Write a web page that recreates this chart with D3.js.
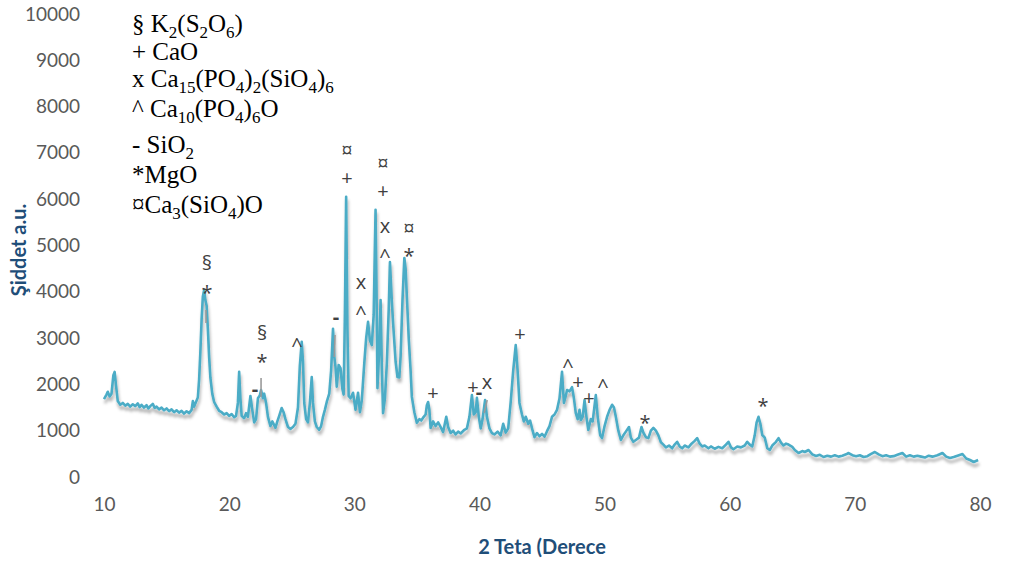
<!DOCTYPE html>
<html>
<head>
<meta charset="utf-8">
<script src="https://cdn.jsdelivr.net/npm/d3@7"></script>
<style>
  body { margin: 0; background: #fff; }
  svg { display: block; }
</style>
</head>
<body>
<svg id="chart"></svg>
<script>
// XRD scan: [2theta (deg), intensity (a.u.)]
const scan = [
  [10.0,1680],[10.2,1780],[10.3,1840],[10.45,1740],[10.6,1800],[10.75,2200],[10.85,2270],[10.95,2000],
  [11.1,1640],[11.3,1560],[11.5,1600],[11.7,1540],[11.9,1580],[12.1,1520],[12.3,1570],[12.5,1530],
  [12.7,1590],[12.85,1510],[13.0,1560],[13.2,1500],[13.4,1550],[13.55,1480],[13.7,1530],[13.9,1580],
  [14.05,1490],[14.2,1520],[14.4,1460],[14.6,1500],[14.8,1440],[15.0,1480],[15.2,1420],[15.4,1460],
  [15.6,1400],[15.8,1440],[16.0,1390],[16.2,1430],[16.4,1370],[16.6,1420],[16.8,1380],[17.0,1450],
  [17.1,1640],[17.2,1520],[17.35,1620],[17.5,1720],[17.6,2100],[17.7,2700],[17.8,3400],[17.9,3900],
  [18.0,4040],[18.1,3820],[18.2,3700],[18.3,3200],[18.4,2600],[18.5,2150],[18.65,1800],[18.8,1620],
  [19.0,1520],[19.2,1430],[19.4,1400],[19.6,1350],[19.8,1380],[20.0,1320],[20.2,1360],[20.4,1290],
  [20.55,1320],[20.7,1600],[20.8,2270],[20.9,1700],[21.0,1320],[21.2,1270],[21.35,1380],[21.5,1300],
  [21.7,1750],[21.85,1450],[22.0,1180],[22.15,1250],[22.3,1700],[22.45,1760],[22.55,1880],[22.7,1700],
  [22.8,1800],[22.95,1600],[23.1,1300],[23.3,1100],[23.45,1200],[23.55,1150],[23.7,1060],[23.85,1200],
  [24.0,1320],[24.2,1490],[24.35,1400],[24.5,1250],[24.7,1080],[24.9,1040],[25.1,1080],[25.3,1150],
  [25.5,1500],[25.65,2400],[25.8,2920],[25.9,2500],[26.0,1600],[26.15,1250],[26.3,1180],[26.45,1600],
  [26.6,2160],[26.7,1600],[26.85,1200],[27.0,1080],[27.2,1020],[27.35,1100],[27.5,1300],[27.65,1450],
  [27.8,1620],[28.0,1800],[28.15,2300],[28.3,3200],[28.4,2600],[28.5,2380],[28.6,1950],[28.75,2420],
  [28.9,2350],[29.05,1900],[29.15,1780],[29.25,3500],[29.35,6050],[29.45,3200],[29.55,1750],[29.7,1700],
  [29.9,1820],[30.1,1450],[30.3,1820],[30.45,1400],[30.6,1650],[30.8,2460],[30.95,3000],[31.1,3350],
  [31.25,2950],[31.4,2850],[31.55,3500],[31.7,5770],[31.8,3500],[31.85,1920],[32.0,2800],[32.1,3820],
  [32.2,2400],[32.3,1380],[32.45,1700],[32.6,2450],[32.75,3600],[32.85,4640],[33.0,3800],[33.1,3330],
  [33.3,2500],[33.45,2160],[33.6,2150],[33.7,2600],[33.85,3800],[34.0,4730],[34.1,4500],[34.2,3900],
  [34.35,3000],[34.5,2300],[34.6,1730],[34.8,1400],[35.0,1170],[35.2,1250],[35.35,1220],[35.55,1300],
  [35.7,1350],[35.8,1550],[35.9,1620],[36.0,1450],[36.1,1060],[36.3,1200],[36.5,1100],[36.7,1180],
  [36.9,1080],[37.1,970],[37.35,1300],[37.5,1080],[37.7,950],[37.9,1000],[38.1,920],[38.3,980],
  [38.5,940],[38.8,1020],[39.0,1050],[39.2,1300],[39.4,1770],[39.55,1350],[39.7,1400],[39.8,1710],
  [39.95,1300],[40.1,1050],[40.25,1250],[40.45,1660],[40.6,1300],[40.8,1050],[41.0,950],[41.2,920],
  [41.45,980],[41.7,900],[41.9,1150],[42.1,960],[42.3,1050],[42.5,1620],[42.7,2300],[42.9,2850],
  [43.05,2300],[43.2,1600],[43.4,1350],[43.55,1200],[43.7,1300],[43.9,1150],[44.05,1220],[44.25,1000],
  [44.4,860],[44.6,950],[44.8,880],[45.0,930],[45.2,870],[45.4,990],[45.6,1100],[45.8,1300],
  [46.0,1350],[46.2,1450],[46.4,1700],[46.6,2270],[46.75,1600],[46.9,1750],[47.0,1880],[47.2,1850],
  [47.4,1940],[47.55,1700],[47.7,1380],[47.85,1250],[48.0,1450],[48.1,1230],[48.25,1300],[48.4,1660],
  [48.55,1300],[48.7,1015],[48.9,1250],[49.05,1200],[49.3,1770],[49.45,1300],[49.65,900],[49.8,840],
  [50.0,1100],[50.2,1300],[50.4,1450],[50.6,1560],[50.75,1500],[50.9,1300],[51.1,1000],[51.3,800],
  [51.5,900],[51.7,980],[51.95,1080],[52.1,850],[52.3,760],[52.5,800],[52.75,850],[52.95,1080],
  [53.1,960],[53.3,860],[53.5,840],[53.7,1000],[53.9,1060],[54.1,1000],[54.3,900],[54.5,750],
  [54.7,700],[54.9,640],[55.15,680],[55.4,620],[55.6,700],[55.8,760],[56.0,660],[56.2,620],
  [56.4,680],[56.7,640],[56.95,720],[57.2,780],[57.4,840],[57.6,720],[57.8,660],[58.0,680],
  [58.3,620],[58.5,660],[58.8,610],[59.1,650],[59.4,620],[59.7,700],[59.9,760],[60.1,640],
  [60.3,600],[60.6,660],[60.9,640],[61.2,680],[61.4,760],[61.6,700],[61.8,660],[62.0,900],
  [62.15,1180],[62.3,1300],[62.45,1150],[62.6,907],[62.8,850],[63.0,620],[63.2,583],[63.4,680],
  [63.7,760],[63.9,840],[64.1,740],[64.3,680],[64.5,720],[64.7,700],[65.0,650],[65.2,583],
  [65.5,518],[65.8,560],[66.0,540],[66.3,583],[66.6,490],[66.9,453],[67.2,480],[67.5,432],
  [67.8,460],[68.1,440],[68.4,470],[68.7,440],[69.0,460],[69.3,490],[69.5,518],[69.8,470],
  [70.1,450],[70.4,470],[70.7,432],[71.0,450],[71.3,500],[71.6,540],[71.9,490],[72.2,450],
  [72.5,470],[72.8,440],[73.1,450],[73.4,480],[73.8,518],[74.1,440],[74.4,470],[74.7,440],
  [75.0,460],[75.3,440],[75.6,420],[75.9,460],[76.2,440],[76.6,470],[77.0,518],[77.3,440],
  [77.6,410],[77.9,430],[78.2,460],[78.6,497],[78.9,400],[79.2,367],[79.5,324],[79.85,367]
];

// phase marks over the peaks: [2theta, intensity, symbol] (visual centre of the symbol)
const peakMarks = [
  [18.23,4620,"§"],[18.23,4080,"*"],
  [22.63,3110,"§"],[22.63,2590,"*"],[22.07,1857,"-"],
  [25.42,2916,"^"],[28.54,3413,"-"],
  [29.42,7063,"¤"],[29.42,6458,"+"],
  [30.54,4168,"x"],[30.54,3607,"^"],
  [32.30,6782,"¤"],[32.30,6177,"+"],
  [32.45,5378,"x"],[32.45,4838,"^"],
  [34.37,5378,"¤"],[34.37,4860,"*"],
  [36.29,1814,"+"],
  [39.49,1944,"+"],[39.97,1793,"-"],[40.61,2009,"x"],
  [43.24,3088,"+"],
  [47.08,2462,"^"],[47.88,2052,"+"],[48.76,1706,"+"],[49.87,2030,"^"],
  [53.23,1274,"*"],[62.66,1641,"*"]
];

// short grey leader ticks next to a few peaks: [2theta top, int top, 2theta bottom, int bottom]
const leaders = [
  [18.15,3607,18.15,3326],
  [22.55,2138,22.55,1728],
  [28.46,3067,28.40,2592],
  [40.62,1663,40.38,1382]
];

// phase legend, "_n" = subscript
const phases = [
  "§ K_2(S_2O_6)",
  "+ CaO",
  "x Ca_15(PO_4)_2(SiO_4)_6",
  "^ Ca_10(PO_4)_6O",
  "- SiO_2",
  "*MgO",
  "¤Ca_3(SiO_4)O"
];
const legendBaselines = [32, 60, 87, 117, 153, 183, 213];

const xTicks = [10, 20, 30, 40, 50, 60, 70, 80];
const yTicks = [0, 1000, 2000, 3000, 4000, 5000, 6000, 7000, 8000, 9000, 10000];

const width = 1011, height = 565;
const svg = d3.select("#chart").attr("width", width).attr("height", height);

const x = d3.scaleLinear().domain([10, 80]).range([104, 980]);
const y = d3.scaleLinear().domain([0, 10000]).range([477, 14]);

// drop shadow like the office chart
const defs = svg.append("defs");
const f = defs.append("filter").attr("id", "shadow")
  .attr("x", "-5%").attr("y", "-5%").attr("width", "110%").attr("height", "120%");
f.append("feDropShadow")
  .attr("dx", 1).attr("dy", 4).attr("stdDeviation", 1.8)
  .attr("flood-color", "#000").attr("flood-opacity", 0.3);

// axes: labels only
svg.append("g")
  .attr("transform", "translate(80,0)")
  .call(d3.axisLeft(y).tickValues(yTicks).tickSize(0).tickPadding(0).tickFormat(d3.format("d")))
  .call(g => g.select(".domain").remove())
  .call(g => g.selectAll("text")
    .attr("fill", "#595959")
    .style("font", "19px Lato, 'Open Sans', sans-serif"));

svg.append("g")
  .attr("transform", "translate(0,497)")
  .call(d3.axisBottom(x).tickValues(xTicks).tickSize(0).tickPadding(0))
  .call(g => g.select(".domain").remove())
  .call(g => g.selectAll("text")
    .attr("fill", "#595959")
    .attr("dy", "0.71em")
    .style("font", "19px Lato, 'Open Sans', sans-serif"));

// axis titles
svg.append("text")
  .attr("x", 542).attr("y", 554)
  .attr("text-anchor", "middle")
  .attr("fill", "#1f4e79")
  .style("font", "bold 20px Lato, 'Open Sans', sans-serif")
  .text("2 Teta (Derece");

svg.append("text")
  .attr("transform", "translate(26,250) rotate(-90)")
  .attr("text-anchor", "middle")
  .attr("fill", "#1f4e79")
  .style("font", "bold 20px Lato, 'Open Sans', sans-serif")
  .text("Şiddet a.u.");

// the pattern
const line = d3.line()
  .x(d => x(d[0]))
  .y(d => y(d[1]));

svg.append("path")
  .datum(scan)
  .attr("fill", "none")
  .attr("stroke", "#4bacc6")
  .attr("stroke-width", 2.6)
  .attr("stroke-linejoin", "round")
  .attr("filter", "url(#shadow)")
  .attr("d", line);

// leaders
svg.append("g")
  .selectAll("line")
  .data(leaders)
  .join("line")
  .attr("x1", d => x(d[0])).attr("y1", d => y(d[1]))
  .attr("x2", d => x(d[2])).attr("y2", d => y(d[3]))
  .attr("stroke", "#9a9a9a")
  .attr("stroke-width", 1.6);

// peak symbols, shifted so the glyph centre sits on the point
const glyphShift = { "+": 7, "x": 5.3, "*": 11.5, "^": 10.4, "§": 7, "¤": 7.4, "-": 5.4 };
svg.append("g")
  .style("font", "20px 'Open Sans', 'DejaVu Sans', sans-serif")
  .attr("fill", "#404040")
  .selectAll("text")
  .data(peakMarks)
  .join("text")
  .attr("x", d => x(d[0]))
  .attr("y", d => y(d[1]) + glyphShift[d[2]])
  .attr("text-anchor", "middle")
  .style("font-weight", d => d[2] === "-" ? "bold" : null)
  .text(d => d[2]);

// legend in serif with subscripts
const legend = svg.append("g")
  .style("font", "25px 'Liberation Serif', 'Times New Roman', serif")
  .attr("fill", "#000");

phases.forEach((str, i) => {
  const t = legend.append("text").attr("x", 132).attr("y", legendBaselines[i]);
  const parts = str.split(/_(\d+)/);
  let shifted = false;
  parts.forEach((p, j) => {
    if (!p) return;
    const isSub = j % 2 === 1;
    const dy = isSub === shifted ? 0 : (isSub ? 6 : -6);
    shifted = isSub;
    t.append("tspan")
      .attr("dy", dy)
      .style("font-size", isSub ? "17px" : null)
      .text(p);
  });
});
</script>
</body>
</html>
